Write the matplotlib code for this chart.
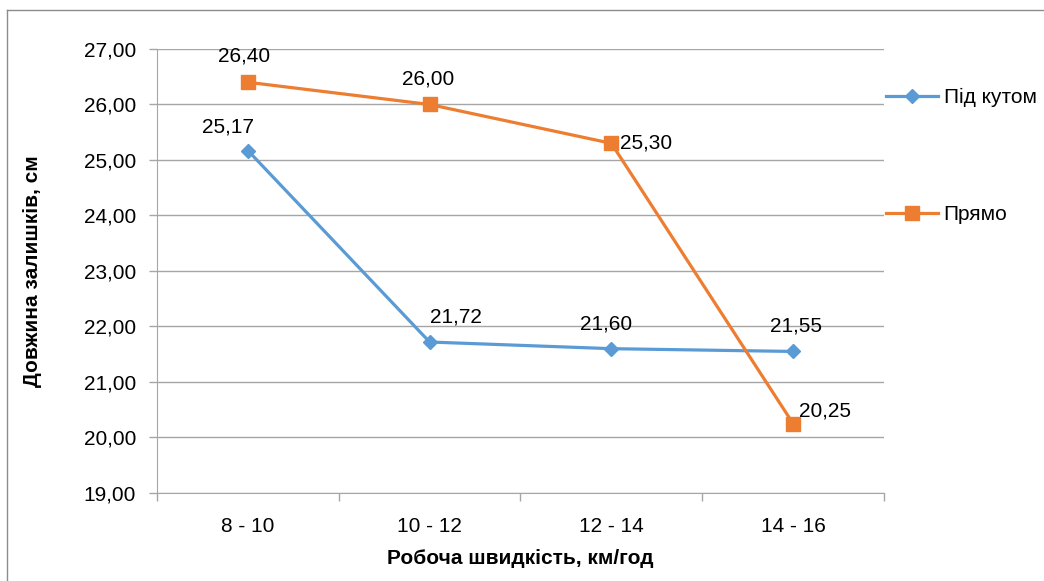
import matplotlib.pyplot as plt
from matplotlib.lines import Line2D
from matplotlib.ticker import MultipleLocator, FixedLocator

plt.rcParams['font.family'] = ['Liberation Sans', 'DejaVu Sans']

categories = ['8 - 10', '10 - 12', '12 - 14', '14 - 16']
pid_kutom = [25.17, 21.72, 21.60, 21.55]
pryamo = [26.40, 26.00, 25.30, 20.25]

blue = '#5B9BD5'
orange = '#ED7D31'
grid = '#A6A6A6'
fs = 15

fig = plt.figure(figsize=(10.44, 5.81), dpi=100)
ax = fig.add_axes([0.1504, 0.1515, 0.8467 - 0.1504, 0.9157 - 0.1515])

x = list(range(len(categories)))
ax.plot(x, pid_kutom, color=blue, lw=2.3, marker='D', ms=7.5, label='Під кутом', zorder=3)
ax.plot(x, pryamo, color=orange, lw=2.3, marker='s', ms=9.5, label='Прямо', zorder=3)

ax.set_xlim(-0.5, 3.5)
ax.set_ylim(19, 27)
ax.yaxis.set_major_locator(MultipleLocator(1))
ax.yaxis.set_major_formatter(lambda v, p: f'{v:.2f}'.replace('.', ','))
ax.set_xticks(x)
ax.set_xticklabels(categories)
ax.xaxis.set_minor_locator(FixedLocator([-0.5, 0.5, 1.5, 2.5, 3.5]))
ax.tick_params(axis='x', which='major', length=0, pad=17, labelsize=fs)
ax.tick_params(axis='x', which='minor', length=6, color=grid, width=1)
ax.tick_params(axis='y', length=6, color=grid, width=1, pad=9, labelsize=fs)
ax.grid(axis='y', color=grid, lw=1)
ax.set_axisbelow(True)
for s in ['top', 'right']:
    ax.spines[s].set_visible(False)
for s in ['left', 'bottom']:
    ax.spines[s].set_color(grid)

ax.set_xlabel('Робоча швидкість, км/год', fontsize=fs, fontweight='bold', labelpad=10)
ax.set_ylabel('Довжина залишків, см', fontsize=fs, fontweight='bold', labelpad=30)

# data labels: offsets in points
blue_off = [(-14, 17), (19, 18), (-4, 18), (2, 18)]
orange_off = [(-3, 19), (-1, 18), (25, 0), (23, 9)]
for xi, v, off in zip(x, pid_kutom, blue_off):
    ax.annotate(f'{v:.2f}'.replace('.', ','), (xi, v), xytext=off, textcoords='offset points',
                ha='center', va='center', fontsize=fs)
for xi, v, off in zip(x, pryamo, orange_off):
    ax.annotate(f'{v:.2f}'.replace('.', ','), (xi, v), xytext=off, textcoords='offset points',
                ha='center', va='center', fontsize=fs)

fig.legend(loc='upper left', bbox_to_anchor=(0.849, 0.848), frameon=False, borderpad=0,
           borderaxespad=0, fontsize=fs, labelspacing=4.7, handlelength=2.5, handletextpad=0.25)

# outer chart border (top and left visible)
fig.add_artist(Line2D([0.0067, 1.0], [1 - 10 / 581, 1 - 10 / 581], color='#8C8C8C', lw=1))
fig.add_artist(Line2D([0.0067, 0.0067], [0.0, 1 - 10 / 581], color='#8C8C8C', lw=1))

fig.savefig('out.png', dpi=100)
